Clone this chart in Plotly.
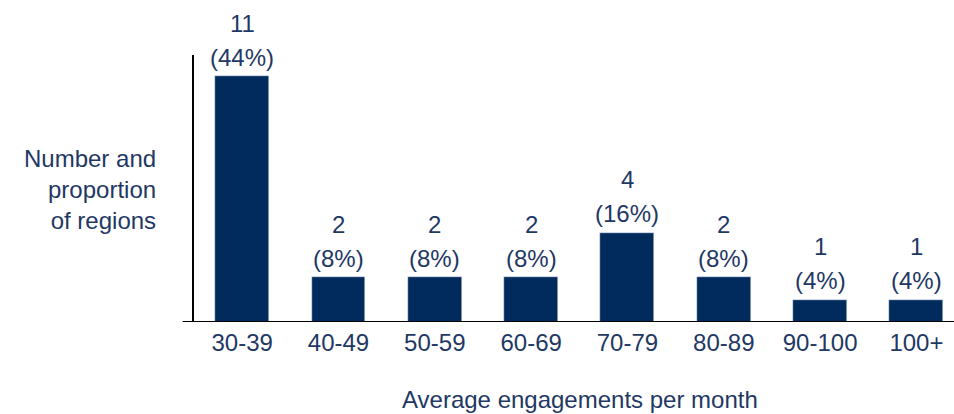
import plotly.graph_objects as go

categories = ['30-39', '40-49', '50-59', '60-69', '70-79', '80-89', '90-100', '100+']
counts = [11, 2, 2, 2, 4, 2, 1, 1]
percents = [44, 8, 8, 8, 16, 8, 4, 4]

bar_color = '#002B5C'
text_color = '#1F3864'
font_family = 'Liberation Sans, Arial, sans-serif'
fsize = 24

fig = go.Figure()
fig.add_trace(go.Bar(x=list(range(len(categories))), y=counts, marker_color=bar_color,
                     width=0.56, hoverinfo='skip'))

# two-line labels above each bar
for i, (c, p) in enumerate(zip(counts, percents)):
    fig.add_annotation(x=i, y=c, text=f'({p}%)', showarrow=False, yshift=19, yanchor='middle',
                       font=dict(size=fsize, color=text_color, family=font_family))
    fig.add_annotation(x=i, y=c, text=str(c), showarrow=False, yshift=53, yanchor='middle',
                       font=dict(size=fsize, color=text_color, family=font_family))

# y-axis title, horizontal on the left
fig.add_annotation(xref='paper', yref='paper', x=-0.047, y=0.498, xanchor='right', yanchor='middle',
                   text='Number and<br>proportion<br>of regions', align='right', showarrow=False,
                   font=dict(size=fsize, color=text_color, family=font_family))
# x-axis title
fig.add_annotation(xref='paper', yref='paper', x=0.508, y=-0.232, xanchor='center', yanchor='top',
                   text='Average engagements per month', showarrow=False,
                   font=dict(size=fsize, color=text_color, family=font_family))

# baseline extends a bit left of the y-axis
fig.add_shape(type='line', xref='paper', yref='y', x0=-0.015, x1=1, y0=0, y1=0,
              line=dict(color='black', width=2))

fig.update_xaxes(tickvals=list(range(len(categories))), ticktext=categories, range=[-0.5, 7.39],
                 showgrid=False, zeroline=False, showline=False, ticks='', ticklabelstandoff=4,
                 tickfont=dict(size=fsize, color=text_color, family=font_family))
fig.update_yaxes(range=[0, 11.94], showgrid=False, zeroline=False, showticklabels=False,
                 showline=True, linecolor='black', linewidth=2, ticks='')
fig.update_layout(
    width=954, height=414,
    margin=dict(l=194, r=0, t=55, b=92),
    plot_bgcolor='white', paper_bgcolor='white',
    showlegend=False,
    bargap=0,
)
fig.write_html("out.html", config={'displayModeBar': False},
               post_script="document.body.style.margin='0';")
